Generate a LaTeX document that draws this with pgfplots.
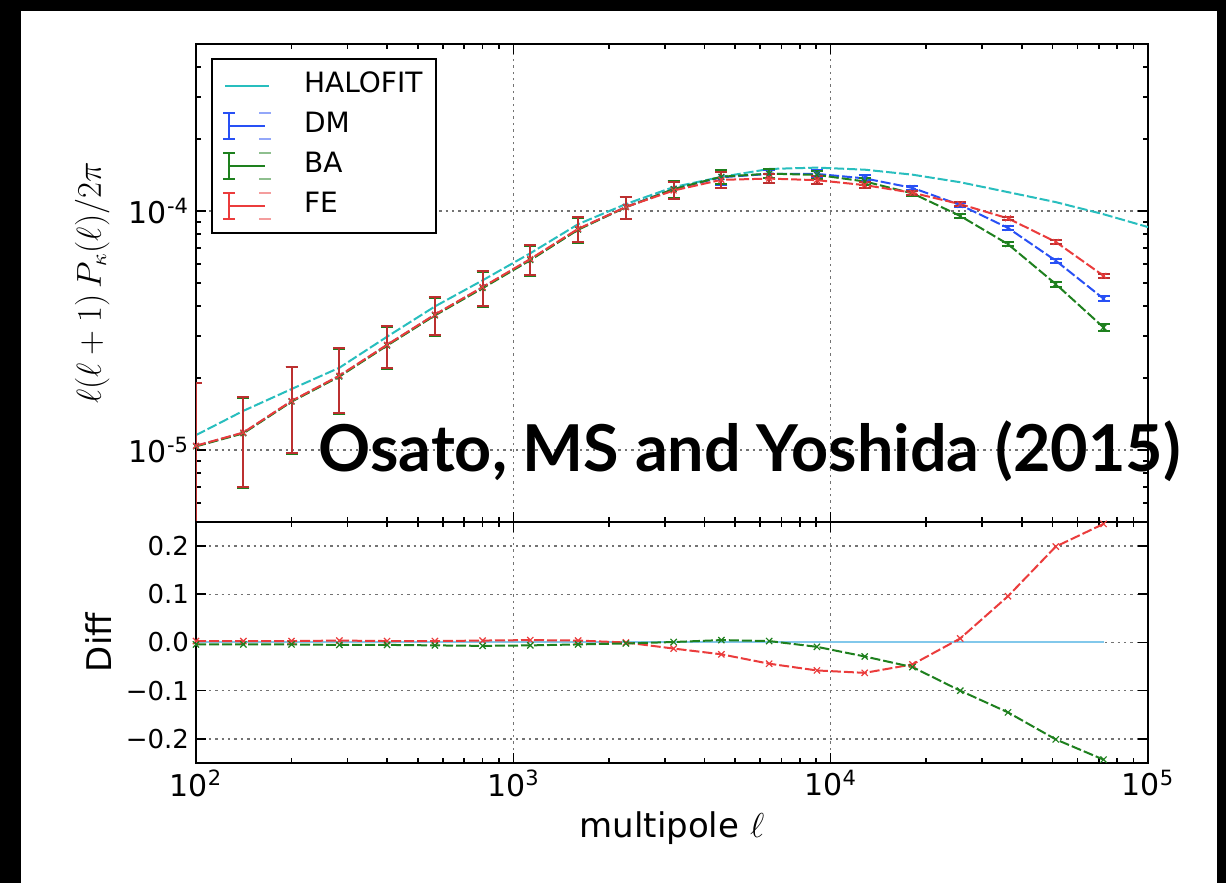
\documentclass[border=0pt]{standalone}
\usepackage{fontspec}
\setmainfont{DejaVu Sans}
\newfontfamily\notefont{Lato}
\usepackage{graphicx}
\usepackage{pgfplots}
\usepackage{pgfplotstable}
\pgfplotsset{compat=1.18}

\definecolor{mplred}{RGB}{235,60,60}
\definecolor{mplblue}{RGB}{40,80,245}
\definecolor{mplgreen}{RGB}{30,128,30}
\definecolor{mplcyan}{RGB}{40,190,190}
\definecolor{diffblue}{RGB}{130,200,235}

% binned spectra: DM, BA, FE and the error on each bin
\pgfplotstableread{
l      dm         ba         fe         err      ddm     dba     dfe
100    1.040e-5   1.036e-5   1.043e-5   0.87e-5  0.0    -0.004  0.003
141    1.180e-5   1.175e-5   1.184e-5   0.48e-5  0.0    -0.004  0.003
200    1.600e-5   1.594e-5   1.605e-5   0.63e-5  0.0    -0.004  0.003
283    2.040e-5   2.030e-5   2.048e-5   0.62e-5  0.0    -0.005  0.004
400    2.750e-5   2.736e-5   2.758e-5   0.55e-5  0.0    -0.005  0.003
566    3.680e-5   3.658e-5   3.691e-5   0.66e-5  0.0    -0.006  0.003
800    4.790e-5   4.756e-5   4.809e-5   0.80e-5  0.0    -0.007  0.004
1131   6.270e-5   6.232e-5   6.301e-5   0.90e-5  0.0    -0.006  0.005
1600   8.390e-5   8.356e-5   8.424e-5   1.00e-5  0.0    -0.004  0.004
2263   1.040e-4   1.038e-4   1.040e-4   1.10e-5  0.0    -0.002  0.000
3200   1.235e-4   1.236e-4   1.219e-4   1.00e-5  0.0     0.001  -0.0126
4525   1.385e-4   1.392e-4   1.351e-4   1.00e-5  0.0     0.005  -0.0245
6400   1.430e-4   1.434e-4   1.367e-4   0.60e-5  0.0     0.003  -0.044
9051   1.430e-4   1.417e-4   1.347e-4   0.50e-5  0.0    -0.009  -0.058
12800  1.370e-4   1.330e-4   1.284e-4   0.40e-5  0.0    -0.029  -0.063
18102  1.250e-4   1.186e-4   1.193e-4   0.25e-5  0.0    -0.051  -0.0455
25600  1.060e-4   0.954e-4   1.069e-4   0.20e-5  0.0    -0.100  0.0084
36204  0.850e-4   0.727e-4   0.932e-4   0.15e-5  0.0    -0.145  0.096
51200  0.620e-4   0.495e-4   0.743e-4   0.12e-5  0.0    -0.201  0.199
72408  0.430e-4   0.326e-4   0.536e-4   0.10e-5  0.0    -0.243  0.246
}\spectra

% halofit prediction
\pgfplotstableread{
l       hf
100     1.155e-5
141     1.459e-5
200     1.80e-5
283     2.21e-5
400     2.98e-5
566     3.99e-5
800     5.13e-5
1131    6.66e-5
1600    8.81e-5
2263    1.07e-4
3200    1.26e-4
4525    1.39e-4
6400    1.50e-4
9051    1.52e-4
12800   1.49e-4
18102   1.42e-4
25600   1.32e-4
36204   1.20e-4
51200   1.09e-4
72408   0.97e-4
100000  0.857e-4
}\halofit

\pgfplotsset{
  panel/.style={
    scale only axis, width=476pt,
    xmin=100, xmax=100000,
    xtick={100,1000,10000,100000},
    minor xtick={200,300,400,500,600,700,800,900,2000,3000,4000,5000,6000,7000,8000,9000,20000,30000,40000,50000,60000,70000,80000,90000},
    grid=major,
    grid style={black!55, line width=0.7pt, dash pattern=on 1.2pt off 2pt},
    axis line style={line width=1.2pt},
    major tick length=5pt, minor tick length=2.5pt,
    every tick/.style={black, line width=0.8pt},
    tick label style={font=\fontsize{13}{15}\selectfont},
  },
  dashline/.style={line width=1pt, dash pattern=on 5pt off 1.5pt},
  errlegend/.style={legend image code/.code={
    \draw[solid, line width=1pt] (0pt,-6.5pt) -- (0pt,6.5pt);
    \draw[solid, line width=1pt] (-3pt,6.5pt) -- (3pt,6.5pt) (-3pt,-6.5pt) -- (3pt,-6.5pt);
    \draw[solid, line width=1pt] (0pt,0pt) -- (18pt,0pt);
    \draw[solid, line width=1pt, opacity=0.5] (15pt,6.5pt) -- (21pt,6.5pt) (15pt,-6.5pt) -- (21pt,-6.5pt);
  }},
}

\begin{document}
\begin{tikzpicture}
\useasboundingbox (0,0) rectangle (613pt,441.5pt);
\fill[black] (0,0) rectangle (613pt,441.5pt);
\fill[white] (10.5pt,0) rectangle (608.5pt,436pt);

\begin{axis}[xmode=log, ymode=log, panel,
  at={(98pt,180.5pt)}, anchor=south west, height=239pt,
  ymin=5e-6, ymax=5e-4,
  xticklabels={},
  ytick={1e-5,1e-4},
  yticklabels={10\textsuperscript{-5},10\textsuperscript{-4}},
  minor ytick={6e-6,7e-6,8e-6,9e-6,2e-5,3e-5,4e-5,5e-5,6e-5,7e-5,8e-5,9e-5,2e-4,3e-4,4e-4},
  yticklabel style={font=\fontsize{15}{17}\selectfont},
  ylabel={$\ell(\ell+1)\,P_\kappa(\ell)/2\pi$},
  every axis y label/.style={at={(axis description cs:-0.109,0.5)}, rotate=90, anchor=center, font=\fontsize{16}{19}\selectfont},
  legend style={at={(axis description cs:0.0158,0.971)}, anchor=north west,
    draw=black, line width=1pt, font=\fontsize{14}{16}\selectfont,
    inner xsep=5pt, inner ysep=5pt, row sep=3pt, column sep=14pt,
    nodes={inner sep=2pt, text height=10pt, text depth=3pt}},
  legend cell align=left,
]
\addlegendimage{mplcyan, line width=1pt, legend image code/.code={\draw (-2pt,0pt) -- (20pt,0pt);}}
\addlegendentry{HALOFIT}
\addlegendimage{mplblue, errlegend}
\addlegendentry{DM}
\addlegendimage{mplgreen, errlegend}
\addlegendentry{BA}
\addlegendimage{mplred, errlegend}
\addlegendentry{FE}

\addplot[mplcyan, dashline, forget plot] table[x=l, y=hf] {\halofit};
\addplot[mplblue, dashline, mark=x, mark size=2pt, mark options={solid, line width=0.6pt}, forget plot,
  error bars/.cd, y dir=both, y explicit, error bar style={solid, line width=1pt},
  error mark options={rotate=90, mark size=3pt, line width=1pt}]
  table[x=l, y=dm, y error=err] {\spectra};
\addplot[mplgreen, dashline, mark=x, mark size=2pt, mark options={solid, line width=0.6pt}, forget plot,
  error bars/.cd, y dir=both, y explicit, error bar style={solid, line width=1pt},
  error mark options={rotate=90, mark size=3pt, line width=1pt}]
  table[x=l, y=ba, y error=err] {\spectra};
\addplot[mplred, dashline, mark=x, mark size=2pt, mark options={solid, line width=0.6pt}, forget plot,
  error bars/.cd, y dir=both, y explicit, error bar style={solid, line width=1pt, color=mplred!80!black},
  error mark options={rotate=90, mark size=3pt, line width=1pt}]
  table[x=l, y=fe, y error=err] {\spectra};
\end{axis}

\begin{axis}[xmode=log, panel,
  at={(98pt,60pt)}, anchor=south west, height=120.5pt,
  ymin=-0.25, ymax=0.25,
  xticklabels={10\textsuperscript{2},10\textsuperscript{3},10\textsuperscript{4},10\textsuperscript{5}},
  xticklabel style={font=\fontsize{15}{17}\selectfont},
  ytick={-0.2,-0.1,0,0.1,0.2},
  yticklabels={−0.2,−0.1,0.0,0.1,0.2},
  xlabel={multipole $\ell$},
  ylabel={Diff},
  every axis x label/.style={at={(axis description cs:0.5,-0.27)}, anchor=center, font=\fontsize{17}{20}\selectfont},
  every axis y label/.style={at={(axis description cs:-0.102,0.5)}, rotate=90, anchor=center, font=\fontsize{17}{20}\selectfont},
]
\addplot[diffblue, line width=1pt] table[x=l, y=ddm] {\spectra};
\addplot[mplred, dashline, mark=x, mark size=2.2pt, mark options={solid, line width=0.6pt}] table[x=l, y=dfe] {\spectra};
\addplot[mplgreen, dashline, mark=x, mark size=2.2pt, mark options={solid, line width=0.6pt}] table[x=l, y=dba] {\spectra};
\end{axis}

\node[anchor=base west, inner sep=0pt] at (159pt,205.5pt)
  {\resizebox{431pt}{!}{\notefont\bfseries Osato, MS and Yoshida (2015)}};
\end{tikzpicture}
\end{document}
